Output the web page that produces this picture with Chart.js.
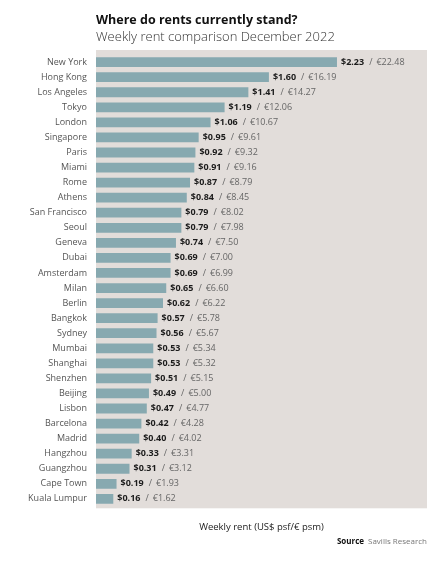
<!DOCTYPE html>
<html>
<head>
<meta charset="utf-8">
<script src="https://cdn.jsdelivr.net/npm/chart.js@4.4.0/dist/chart.umd.min.js"></script>
<style>
  html, body { margin: 0; padding: 0; background: #ffffff; }
  #wrap { width: 447px; height: 575px; position: relative; }
</style>
</head>
<body>
<div id="wrap"><canvas id="rentChart"></canvas></div>
<script>
const cities = ['New York', 'Hong Kong', 'Los Angeles', 'Tokyo', 'London', 'Singapore', 'Paris', 'Miami',
  'Rome', 'Athens', 'San Francisco', 'Seoul', 'Geneva', 'Dubai', 'Amsterdam', 'Milan', 'Berlin',
  'Bangkok', 'Sydney', 'Mumbai', 'Shanghai', 'Shenzhen', 'Beijing', 'Lisbon', 'Barcelona', 'Madrid',
  'Hangzhou', 'Guangzhou', 'Cape Town', 'Kuala Lumpur'];
const usdPsf = [2.23, 1.60, 1.41, 1.19, 1.06, 0.95, 0.92, 0.91, 0.87, 0.84, 0.79, 0.79, 0.74, 0.69, 0.69,
  0.65, 0.62, 0.57, 0.56, 0.53, 0.53, 0.51, 0.49, 0.47, 0.42, 0.40, 0.33, 0.31, 0.19, 0.16];
const eurPsm = ['22.48', '16.19', '14.27', '12.06', '10.67', '9.61', '9.32', '9.16', '8.79', '8.45', '8.02',
  '7.98', '7.50', '7.00', '6.99', '6.60', '6.22', '5.78', '5.67', '5.34', '5.32', '5.15', '5.00', '4.77',
  '4.28', '4.02', '3.31', '3.12', '1.93', '1.62'];

const FONT = "'Open Sans', sans-serif";

// grey panel behind the bars
const panelBg = {
  id: 'panelBg',
  beforeDraw(chart) {
    const {ctx, chartArea} = chart;
    ctx.save();
    ctx.fillStyle = '#e2ddda';
    ctx.fillRect(chartArea.left, chartArea.top - 4.6, chartArea.right - chartArea.left, chartArea.bottom - chartArea.top + 6.5);
    ctx.restore();
  }
};

// "$2.23 / €22.48" after each bar
const valueLabels = {
  id: 'valueLabels',
  afterDatasetsDraw(chart) {
    const {ctx} = chart;
    const bars = chart.getDatasetMeta(0).data;
    ctx.save();
    ctx.textBaseline = 'middle';
    bars.forEach((bar, i) => {
      let x = bar.x + 4;
      const usd = '$' + usdPsf[i].toFixed(2);
      ctx.font = "bold 9px " + FONT;
      ctx.fillStyle = '#1c1c1c';
      ctx.fillText(usd, x, bar.y);
      x += ctx.measureText(usd).width + 5;
      ctx.font = "9px " + FONT;
      ctx.fillStyle = '#666666';
      ctx.fillText('/', x, bar.y);
      x += ctx.measureText('/').width + 4;
      ctx.fillText('€' + eurPsm[i], x, bar.y);
    });
    ctx.restore();
  }
};

// source line under the axis title
const sourceNote = {
  id: 'sourceNote',
  afterDraw(chart) {
    const {ctx, chartArea} = chart;
    ctx.save();
    ctx.textBaseline = 'middle';
    ctx.textAlign = 'right';
    ctx.font = "8px " + FONT;
    ctx.fillStyle = '#777777';
    const rest = 'Savills Research';
    ctx.fillText(rest, chartArea.right, 542);
    const w = ctx.measureText(rest).width;
    ctx.font = "bold 8px " + FONT;
    ctx.fillStyle = '#111111';
    ctx.fillText('Source', chartArea.right - w - 4, 542);
    ctx.restore();
  }
};

const ctx = document.getElementById('rentChart').getContext('2d');
new Chart(ctx, {
  type: 'bar',
  data: {
    labels: cities,
    datasets: [{
      data: usdPsf,
      backgroundColor: '#87a9b0',
      borderWidth: 0,
      barPercentage: 0.65,
      categoryPercentage: 1.0
    }]
  },
  options: {
    indexAxis: 'y',
    responsive: true,
    maintainAspectRatio: false,
    animation: false,
    layout: {
      padding: { top: 0, right: 20, bottom: 41.6, left: 0 }
    },
    plugins: {
      legend: { display: false },
      tooltip: { enabled: false },
      title: {
        display: true,
        text: 'Where do rents currently stand?',
        align: 'start',
        fullSize: false,
        color: '#111111',
        font: { family: FONT, size: 12.5, weight: 'bold' },
        padding: { top: 12.5, bottom: 2 }
      },
      subtitle: {
        display: true,
        text: 'Weekly rent comparison December 2022',
        align: 'start',
        fullSize: false,
        color: '#333333',
        font: { family: FONT, size: 13, weight: 300 },
        padding: { top: 0, bottom: 9.5 }
      }
    },
    scales: {
      x: {
        min: 0,
        max: 3.063,
        grid: { display: false },
        border: { display: false },
        ticks: { display: false },
        title: {
          display: true,
          text: 'Weekly rent (US$ psf/€ psm)',
          color: '#222222',
          font: { family: FONT, size: 9.5 },
          padding: { top: 7.6, bottom: 0 }
        }
      },
      y: {
        grid: { display: false, drawTicks: false },
        border: { display: false },
        ticks: {
          color: '#555555',
          padding: 9,
          autoSkip: false,
          font: { family: FONT, size: 9 }
        },
        afterFit(scale) { scale.width = 96; }
      }
    }
  },
  plugins: [panelBg, valueLabels, sourceNote]
});
</script>
</body>
</html>
